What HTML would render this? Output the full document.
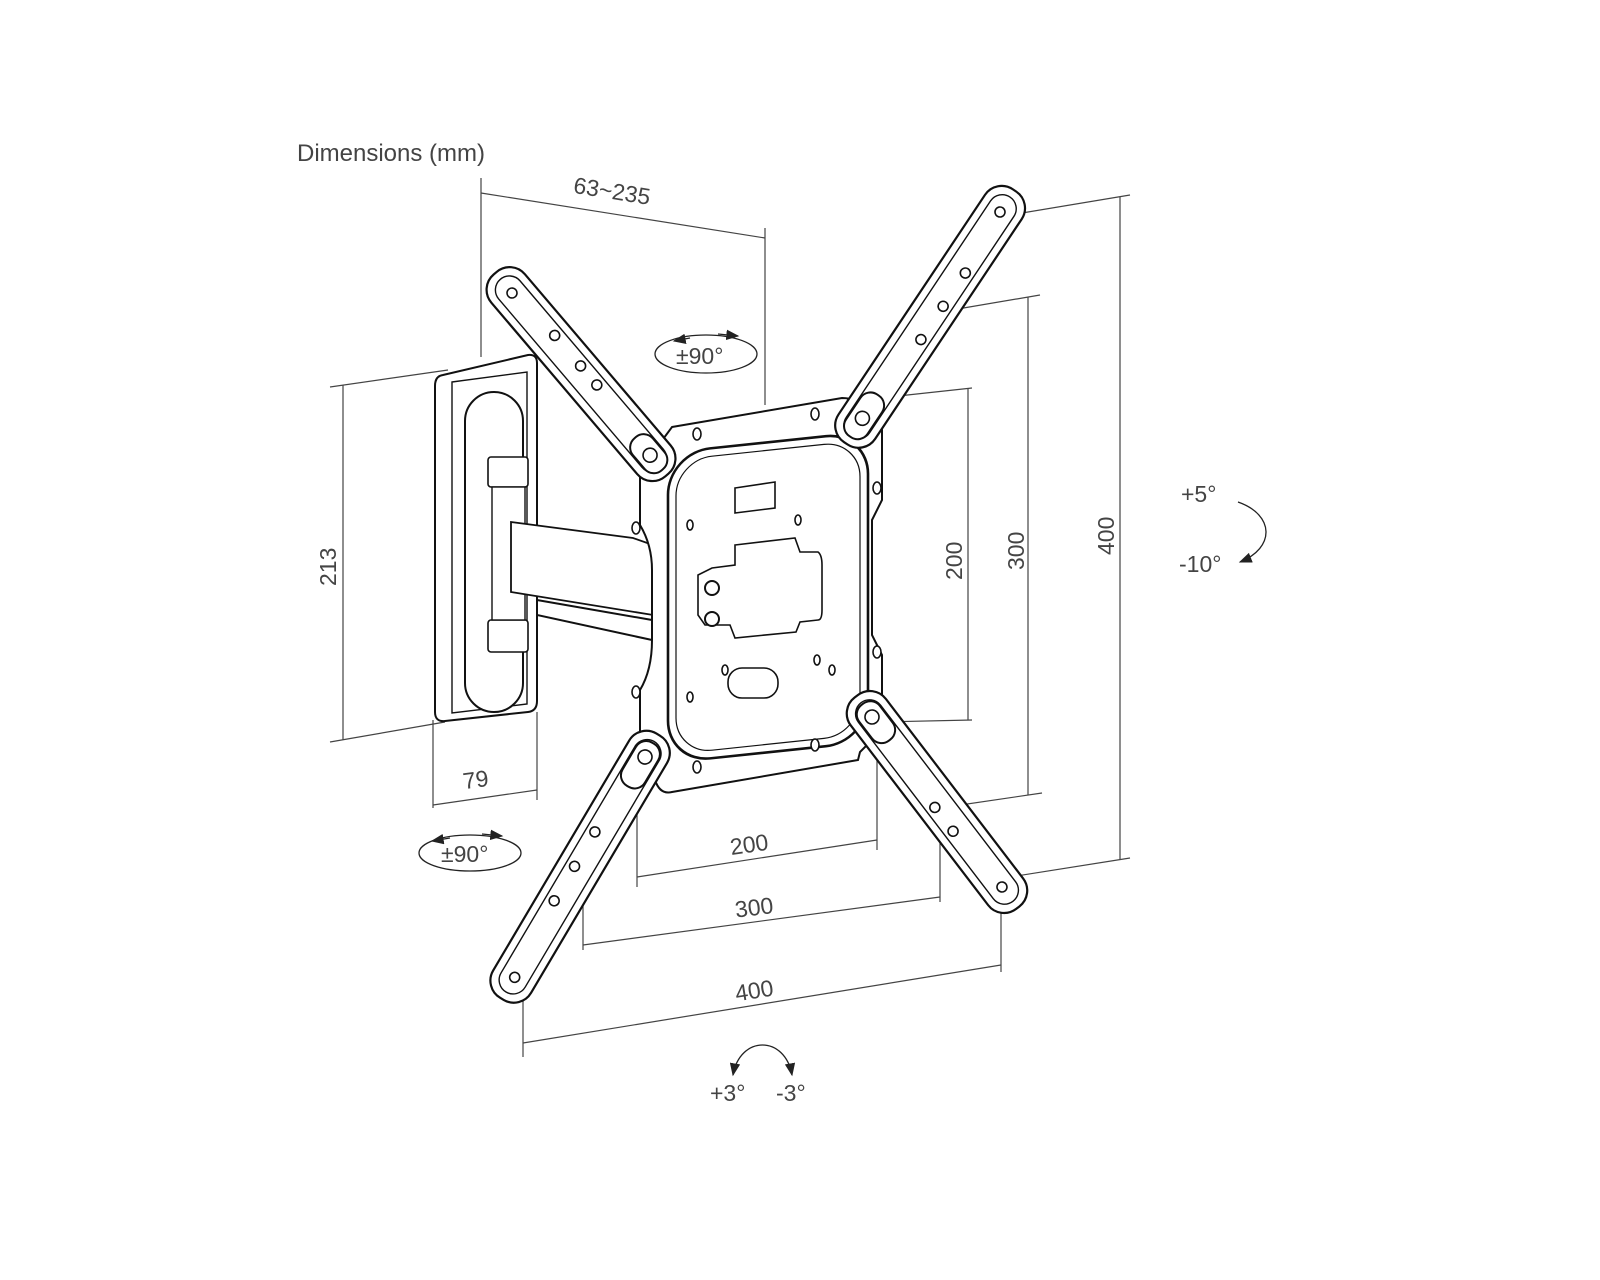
<!DOCTYPE html>
<html><head><meta charset="utf-8"><style>
html,body{margin:0;padding:0;background:#fff;}
svg{display:block}
text{font-family:"Liberation Sans",sans-serif;fill:#444;font-size:23px;}
</style></head><body>
<svg width="1600" height="1280" viewBox="0 0 1600 1280" xmlns="http://www.w3.org/2000/svg">
<defs>
<marker id="ah" markerWidth="10" markerHeight="8" refX="9" refY="4" orient="auto"><path d="M0,0 L10,4 L0,8 z" fill="#222"/></marker>
<marker id="as" markerWidth="10" markerHeight="8" refX="1" refY="4" orient="auto"><path d="M10,0 L0,4 L10,8 z" fill="#222"/></marker>
</defs>
<text x="297" y="161" style="font-size:24px">Dimensions (mm)</text>

<g fill="none" stroke="#444" stroke-width="1.2">
<line x1="481" y1="178" x2="481" y2="357"/><line x1="765" y1="228" x2="765" y2="405"/>
<line x1="481" y1="193" x2="765" y2="238"/>
<line x1="330" y1="387" x2="448" y2="370"/><line x1="330" y1="742" x2="445" y2="722"/>
<line x1="343" y1="385" x2="343" y2="740"/>
<line x1="433" y1="720" x2="433" y2="808"/><line x1="537" y1="712" x2="537" y2="800"/>
<line x1="433" y1="805" x2="537" y2="790"/>
<line x1="880" y1="398" x2="972" y2="388"/><line x1="880" y1="722" x2="972" y2="720"/><line x1="968" y1="388" x2="968" y2="720"/>
<line x1="940" y1="312" x2="1040" y2="295"/><line x1="940" y1="808" x2="1042" y2="793"/><line x1="1028" y1="297" x2="1028" y2="795"/>
<line x1="1010" y1="215" x2="1130" y2="195"/><line x1="1010" y1="877" x2="1130" y2="858"/><line x1="1120" y1="197" x2="1120" y2="860"/>
<line x1="637" y1="790" x2="637" y2="887"/><line x1="877" y1="740" x2="877" y2="850"/><line x1="637" y1="877" x2="877" y2="840"/>
<line x1="583" y1="870" x2="583" y2="950"/><line x1="940" y1="810" x2="940" y2="902"/><line x1="583" y1="945" x2="940" y2="897"/>
<line x1="523" y1="975" x2="523" y2="1057"/><line x1="1001" y1="890" x2="1001" y2="972"/><line x1="523" y1="1043" x2="1001" y2="965"/>
</g>

<g>
<text x="572" y="200" transform="rotate(9 618 200)">63~235</text>
<text x="0" y="0" transform="translate(336 586) rotate(-90)">213</text>
<text x="463" y="787" transform="rotate(-8 480 780)">79</text>
<text x="0" y="0" transform="translate(962 580) rotate(-90)">200</text>
<text x="0" y="0" transform="translate(1024 570) rotate(-90)">300</text>
<text x="0" y="0" transform="translate(1114 555) rotate(-90)">400</text>
<text x="730" y="852" transform="rotate(-8 752 845)">200</text>
<text x="735" y="915" transform="rotate(-7 757 908)">300</text>
<text x="735" y="998" transform="rotate(-9 757 990)">400</text>
<text x="676" y="364">±90°</text>
<text x="441" y="862">±90°</text>
<text x="1181" y="502">+5°</text>
<text x="1179" y="572">-10°</text>
<text x="710" y="1101">+3°</text>
<text x="776" y="1101">-3°</text>
</g>
<g fill="none" stroke="#222" stroke-width="1.3">
<ellipse cx="706" cy="354" rx="51" ry="19"/>
<ellipse cx="470" cy="853" rx="51" ry="18"/>
<path d="M1238 502 C1275 515 1275 548 1240 562" marker-end="url(#ah)"/>
<path d="M733 1075 C740 1035 785 1035 792 1075" marker-end="url(#ah)" marker-start="url(#as)"/>
<path d="M690 338 L674 341" marker-end="url(#ah)"/>
<path d="M718 334 L738 336" marker-end="url(#ah)"/>
<path d="M450 838 L432 841" marker-end="url(#ah)"/>
<path d="M482 834 L502 836" marker-end="url(#ah)"/>
</g>

<g fill="#fff" stroke="#111" stroke-width="2">
<path d="M537 600 L652 620 L652 640 L537 615 Z"/>
<path d="M443 375 Q435 376 435 386 L435 712 Q435 722 445 721 L528 712 Q537 711 537 701 L537 363 Q537 354 528 355 Z"/>
<path d="M452 382 L527 372 L527 704 L452 713 Z" stroke-width="1.4"/>
<rect x="465" y="392" width="58" height="320" rx="29" stroke-width="2"/>
<rect x="488" y="457" width="40" height="30" rx="3" stroke-width="1.6"/>
<rect x="488" y="620" width="40" height="32" rx="3" stroke-width="1.6"/>
<rect x="492" y="487" width="33" height="133" stroke-width="1.4"/>
<path d="M511 522 L633 538 L653 545 L653 615 L511 592 Z" stroke-width="1.8"/>
<path d="M672 427 L842 398 Q858 398 860 410 L882 430 L882 500 L872 520 L872 635 L882 655 L882 730 L860 752 L858 760 L672 792 Q660 795 655 780 L640 760 L640 690 Q652 670 652 640 L652 570 Q652 545 640 525 L640 470 L655 450 Z" stroke-width="2"/>
<rect x="668" y="448" width="200" height="310" rx="42" transform="skewY(-6) translate(0 75)" stroke-width="2.6"/>
<rect x="676" y="456" width="184" height="294" rx="36" transform="skewY(-6) translate(0 75)" stroke-width="1.2"/>
<path d="M735 488 L775 482 L775 508 L735 513 Z" stroke-width="1.6"/>
<path d="M735 545 L795 538 L800 552 L818 552 Q822 555 822 565 L822 610 Q822 620 818 620 L800 622 L796 632 L735 638 L730 625 L705 625 L698 615 L698 575 L712 568 L735 565 Z" stroke-width="1.6"/>
<circle cx="712" cy="588" r="7"/><circle cx="712" cy="619" r="7"/>
<rect x="728" y="668" width="50" height="30" rx="14" stroke-width="1.6"/>
</g>
<g fill="#fff" stroke="#111" stroke-width="1.6">
<ellipse cx="697" cy="434" rx="4" ry="6"/><ellipse cx="815" cy="414" rx="4" ry="6"/>
<ellipse cx="636" cy="528" rx="4" ry="6"/><ellipse cx="636" cy="692" rx="4" ry="6"/>
<ellipse cx="877" cy="488" rx="4" ry="6"/><ellipse cx="877" cy="652" rx="4" ry="6"/>
<ellipse cx="697" cy="767" rx="4" ry="6"/><ellipse cx="815" cy="745" rx="4" ry="6"/>
<ellipse cx="690" cy="525" rx="3" ry="5"/><ellipse cx="798" cy="520" rx="3" ry="5"/>
<ellipse cx="690" cy="697" rx="3" ry="5"/><ellipse cx="817" cy="660" rx="3" ry="5"/>
<ellipse cx="725" cy="670" rx="3" ry="5"/><ellipse cx="832" cy="670" rx="3" ry="5"/>
</g>

<g fill="#fff" stroke="#111">
 <g transform="translate(512 293) rotate(49.6)">
  <rect x="-26" y="-22" width="265" height="44" rx="20" stroke-width="2.2"/>
  <rect x="-18" y="-14" width="249" height="28" rx="14" stroke-width="1.4"/>
  <rect x="190" y="-13" width="42" height="26" rx="12" stroke-width="2"/>
  <g stroke-width="1.6"><circle cx="0" cy="0" r="5"/><circle cx="60" cy="-5" r="5"/><circle cx="100" cy="-5" r="5"/><circle cx="125" cy="-5" r="5"/><circle cx="213" cy="0" r="7"/></g>
 </g>
 <g transform="translate(1000 212) rotate(123.7)">
  <rect x="-26" y="-22" width="304" height="44" rx="20" stroke-width="2.2"/>
  <rect x="-18" y="-14" width="288" height="28" rx="14" stroke-width="1.4"/>
  <rect x="220" y="-13" width="50" height="26" rx="12" stroke-width="2"/>
  <g stroke-width="1.6"><circle cx="0" cy="0" r="5"/><circle cx="70" cy="-5" r="5"/><circle cx="110" cy="-5" r="5"/><circle cx="150" cy="-5" r="5"/><circle cx="248" cy="0" r="7"/></g>
 </g>
 <g transform="translate(645 757) rotate(120.6)">
  <rect x="-26" y="-22" width="307" height="44" rx="20" stroke-width="2.2"/>
  <rect x="-18" y="-14" width="291" height="28" rx="14" stroke-width="1.4"/>
  <rect x="-16" y="-13" width="50" height="26" rx="12" stroke-width="2"/>
  <g stroke-width="1.6"><circle cx="0" cy="0" r="7"/><circle cx="90" cy="5" r="5"/><circle cx="130" cy="5" r="5"/><circle cx="170" cy="5" r="5"/><circle cx="256" cy="0" r="5"/></g>
 </g>
 <g transform="translate(872 717) rotate(52.6)">
  <rect x="-26" y="-22" width="266" height="44" rx="20" stroke-width="2.2"/>
  <rect x="-18" y="-14" width="250" height="28" rx="14" stroke-width="1.4"/>
  <rect x="-16" y="-13" width="45" height="26" rx="12" stroke-width="2"/>
  <g stroke-width="1.6"><circle cx="0" cy="0" r="7"/><circle cx="110" cy="5" r="5"/><circle cx="140" cy="5" r="5"/><circle cx="214" cy="0" r="5"/></g>
 </g>
</g>
</svg>
</body></html>
